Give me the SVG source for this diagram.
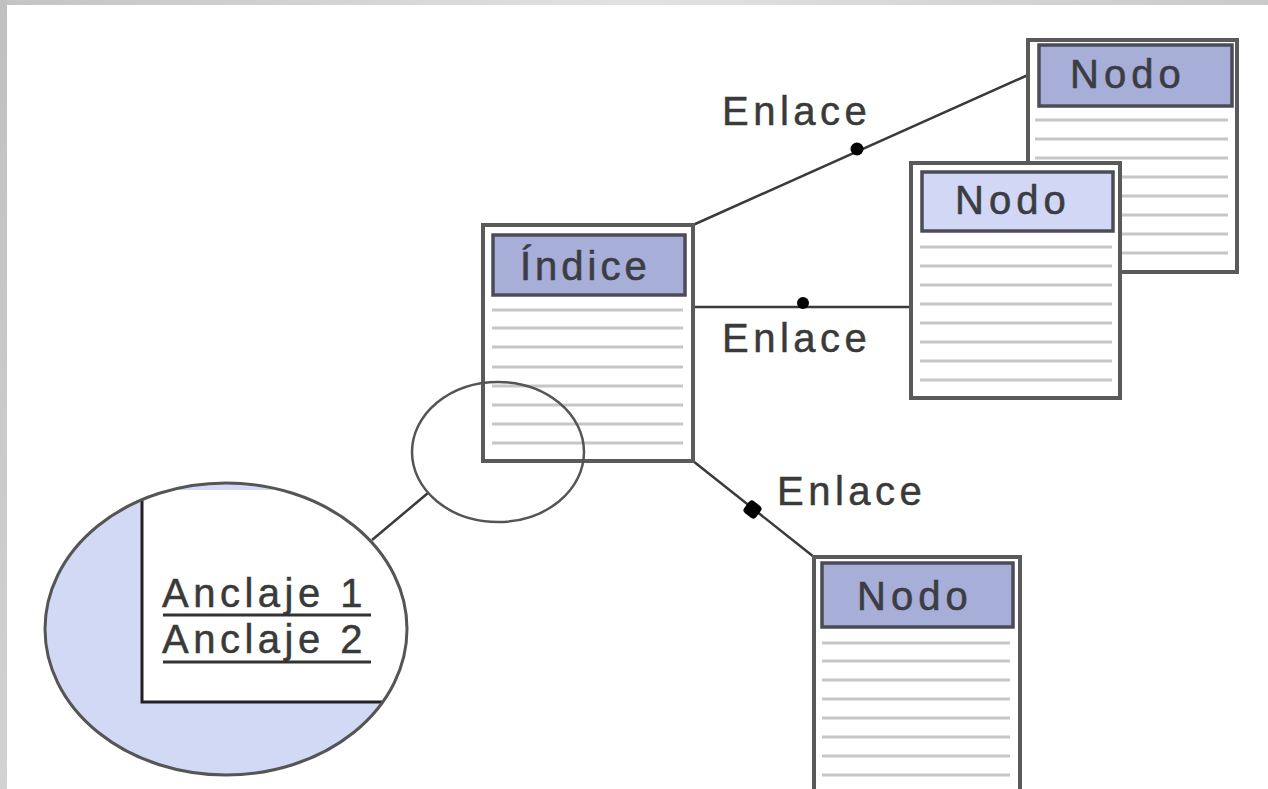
<svg xmlns="http://www.w3.org/2000/svg" width="1268" height="789" viewBox="0 0 1268 789">
<defs>
<linearGradient id="topband" x1="0" y1="0" x2="1" y2="0">
<stop offset="0" stop-color="#c4c4c4"/>
<stop offset="0.5" stop-color="#e2e2e2"/>
<stop offset="1" stop-color="#cacaca"/>
</linearGradient>
<linearGradient id="leftband" x1="0" y1="0" x2="0" y2="1">
<stop offset="0" stop-color="#c0c0c0"/>
<stop offset="1" stop-color="#d2d2d2"/>
</linearGradient>
<clipPath id="bigclip"><ellipse cx="226" cy="629" rx="181" ry="146"/></clipPath>
<style>
.box{fill:#ffffff;stroke:#5a5a5a;stroke-width:4}
.hdr{fill:#a7aed8;stroke:#4c4c58;stroke-width:3.5}
.hdr2{fill:#d1d7f5;stroke:#4c4c58;stroke-width:3.5}
.rule{stroke:#c6c6c6;stroke-width:3}
.lbl{font-family:"Liberation Sans",Arial,sans-serif;font-size:40px;fill:#3c3c44;stroke:#3c3c44;stroke-width:0.6px;letter-spacing:5px}
.link{stroke:#3a3a3a;stroke-width:2.5;fill:none}
.dot{fill:#000000}
.txt{font-family:"Liberation Sans",Arial,sans-serif;font-size:40px;fill:#3a3a3a;stroke:#3a3a3a;stroke-width:0.5px;letter-spacing:4.5px}
</style>
</defs>
<rect x="0" y="0" width="1268" height="789" fill="#ffffff"/>
<rect x="0" y="0" width="1268" height="5" fill="url(#topband)"/>
<rect x="0" y="0" width="7" height="789" fill="url(#leftband)"/>

<g id="connectors">
<line class="link" x1="693" y1="225" x2="1028" y2="75"/>
<circle class="dot" cx="857" cy="149" r="6.5"/>
<line class="link" x1="693" y1="307" x2="911" y2="307"/>
<circle class="dot" cx="803" cy="303" r="6"/>
<line class="link" x1="693" y1="461" x2="814" y2="557"/>
<rect class="dot" x="745" y="502" width="15" height="15" rx="4" transform="rotate(38 752.5 509.5)"/>
<line class="link" x1="428" y1="493" x2="372" y2="540"/>
<text class="txt" x="722" y="125">Enlace</text>
<text class="txt" x="722" y="352">Enlace</text>
<text class="txt" x="777" y="505">Enlace</text>
</g>

<g id="nodo-top">
<rect class="box" x="1028" y="40" width="209" height="232"/>
<rect class="hdr" x="1039" y="45" width="193" height="61"/>
<text class="lbl" x="1070" y="88">Nodo</text>
<g class="rule">
<line x1="1035" y1="120" x2="1228" y2="120"/>
<line x1="1035" y1="139" x2="1228" y2="139"/>
<line x1="1035" y1="158" x2="1228" y2="158"/>
<line x1="1035" y1="177" x2="1228" y2="177"/>
<line x1="1035" y1="196" x2="1228" y2="196"/>
<line x1="1035" y1="215" x2="1228" y2="215"/>
<line x1="1035" y1="234" x2="1228" y2="234"/>
<line x1="1035" y1="253" x2="1228" y2="253"/>
</g>
</g>

<g id="nodo-mid">
<rect class="box" x="911" y="163" width="209" height="235"/>
<rect class="hdr2" x="922" y="172" width="191" height="59"/>
<text class="lbl" x="955" y="214">Nodo</text>
<g class="rule">
<line x1="920" y1="247" x2="1112" y2="247"/>
<line x1="920" y1="266" x2="1112" y2="266"/>
<line x1="920" y1="285" x2="1112" y2="285"/>
<line x1="920" y1="304" x2="1112" y2="304"/>
<line x1="920" y1="323" x2="1112" y2="323"/>
<line x1="920" y1="342" x2="1112" y2="342"/>
<line x1="920" y1="361" x2="1112" y2="361"/>
<line x1="920" y1="380" x2="1112" y2="380"/>
</g>
</g>

<g id="indice">
<rect class="box" x="483" y="225" width="210" height="236"/>
<rect class="hdr" x="493" y="235" width="192" height="60"/>
<text class="lbl" x="520" y="280" style="letter-spacing:4px">Índice</text>
<g class="rule">
<line x1="492" y1="310" x2="683" y2="310"/>
<line x1="492" y1="328" x2="683" y2="328"/>
<line x1="492" y1="347" x2="683" y2="347"/>
<line x1="492" y1="367" x2="683" y2="367"/>
<line x1="492" y1="386" x2="683" y2="386"/>
<line x1="492" y1="405" x2="683" y2="405"/>
<line x1="492" y1="424" x2="683" y2="424"/>
<line x1="492" y1="443" x2="683" y2="443"/>
</g>
</g>

<g id="nodo-bottom">
<rect class="box" x="814" y="557" width="206" height="250"/>
<rect class="hdr" x="822" y="563" width="191" height="64"/>
<text class="lbl" x="857" y="610">Nodo</text>
<g class="rule">
<line x1="822" y1="643" x2="1010" y2="643"/>
<line x1="822" y1="661" x2="1010" y2="661"/>
<line x1="822" y1="680" x2="1010" y2="680"/>
<line x1="822" y1="699" x2="1010" y2="699"/>
<line x1="822" y1="718" x2="1010" y2="718"/>
<line x1="822" y1="737" x2="1010" y2="737"/>
<line x1="822" y1="756" x2="1010" y2="756"/>
<line x1="822" y1="775" x2="1010" y2="775"/>
</g>
</g>

<g id="lupa">
<ellipse cx="498" cy="452" rx="86" ry="70" fill="none" stroke="#555555" stroke-width="2.5"/>
</g>

<g id="ampliacion">
<ellipse cx="226" cy="629" rx="181" ry="146" fill="#d2d9f5"/>
<g clip-path="url(#bigclip)">
<rect x="142" y="490" width="280" height="212" fill="#ffffff"/>
<path d="M142,490 V702 H420" fill="none" stroke="#222222" stroke-width="3"/>
</g>
<ellipse cx="226" cy="629" rx="181" ry="146" fill="none" stroke="#555555" stroke-width="3"/>
<text class="txt" x="162" y="607">Anclaje 1</text>
<text class="txt" x="162" y="653">Anclaje 2</text>
<line x1="163" y1="615" x2="371" y2="615" stroke="#333333" stroke-width="3"/>
<line x1="163" y1="662" x2="371" y2="662" stroke="#333333" stroke-width="3"/>
</g>
</svg>
